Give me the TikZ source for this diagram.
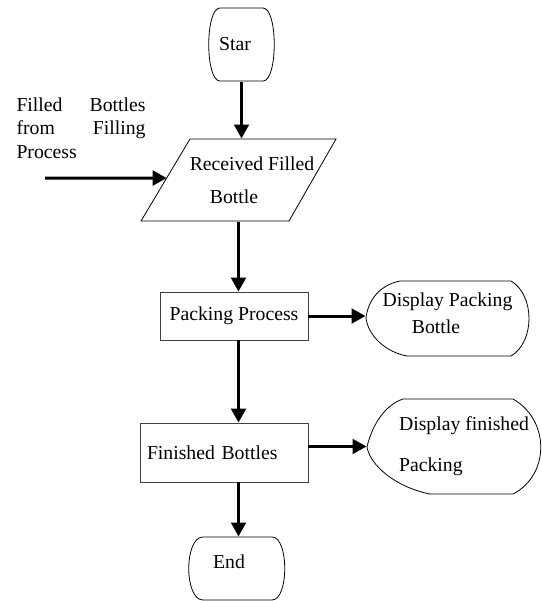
\documentclass[tikz,border=0pt]{standalone}
\usepackage{fontspec}
\setmainfont{Liberation Serif}
\usetikzlibrary{arrows.meta,calc}

\tikzset{every picture/.style={line width=0.75pt}}
\tikzset{
  flow/.style={line width=2.25pt,-{Triangle[length=10.5pt,width=11pt]}},
  outline/.style={line width=0.6pt},
  hidden/.style={draw=none,inner sep=0pt},
  procbox/.style={draw=black!75,line width=0.6pt},
}

\begin{document}
\begin{tikzpicture}[x=0.75pt,y=0.75pt,yscale=-1,font=\fontsize{14.8pt}{18pt}\selectfont]
\useasboundingbox (0,0) rectangle (542,601);

%Shape: Terminal [start]
\draw [outline] (220,8) -- (263,8) .. controls (278,8) and (278,81) .. (263,81) -- (220,81) .. controls (205,81) and (205,8) .. (220,8) -- cycle ;
%Shape: Parallelogram [received]
\coordinate (rbl) at (141,221);
\coordinate (rtl) at (190,139);
\coordinate (rtr) at (336,139);
\coordinate (rbr) at (289,221);
\draw [outline] (rbl) -- (rtl) -- (rtr) -- (rbr) -- cycle ;
%Shape: Display [packing]
\draw [outline] (400,281) -- (511,281) .. controls (535,295) and (535,342) .. (511,356) -- (407,356) .. controls (385,352) and (368,335) .. (366,318) .. controls (368,300) and (380,285) .. (400,281) -- cycle ;
%Shape: Display [finished]
\draw [outline] (403,399) -- (513,399) .. controls (550,420) and (550,475) .. (513,494) -- (430,494) .. controls (395,487) and (370,465) .. (367,447) .. controls (372,425) and (385,405) .. (403,399) -- cycle ;
%Shape: Terminal [stop]
\draw [outline] (203,537) -- (272,537) .. controls (289,537) and (289,600) .. (272,600) -- (203,600) .. controls (184,600) and (184,537) .. (203,537) -- cycle ;

% Text Node
\node (start) [hidden,minimum width=49.5pt,minimum height=54.75pt] at (241.5,44.5) {Star\hspace*{9.75pt}\mbox{}};
% Text Node
\node (recv) [hidden,minimum width=100pt,minimum height=61.5pt,align=center,
  font=\fontsize{14.8pt}{24.75pt}\selectfont] at (238.5,180) {\hspace*{20.25pt}Received Filled\\Bottle\hspace*{6.75pt}\mbox{}};
% Text Node
\node (pack) [procbox,minimum width=111pt,minimum height=36pt] at (234,316) {Packing Process};
% Text Node
\node (disp1) [hidden,minimum width=122.25pt,minimum height=56.25pt,align=center,
  font=\fontsize{14.8pt}{20.25pt}\selectfont] at (447.5,313.5) {Display Packing\\Bottle\hspace*{17.25pt}\mbox{}};
% Text Node
\node (fin) [procbox,minimum height=44.25pt,text width=115.5pt,inner xsep=5.25pt,align=left] at (224,452.5) {Finished Bottles};
% Text Node
\node (disp2) [hidden,minimum width=130.5pt,minimum height=71.25pt,align=left,
  font=\fontsize{14.8pt}{30.75pt}\selectfont] at (454,446.5) {\hspace*{15pt}Display finished\\\hspace*{15pt}Packing};
% Text Node
\node (stop) [hidden,minimum width=72pt,minimum height=37.5pt] at (237,562) {End\hspace*{12pt}\mbox{}};
% Text Node
\node (source) [inner sep=0pt,anchor=north west,text width=96.75pt,align=left,
  font=\fontsize{14.8pt}{17.6pt}\selectfont] at (16,97) {Filled\hfill Bottles\\from\hfill Filling\\Process};
\coordinate (feed) at (45,178);

%Straight Lines
\draw [flow] (start.south) -- (start.south |- recv.north) ;
\draw [flow] (feed) -- ($(rbl)!0.524!(rtl)$) ;
\draw [flow] (recv.south) -- (recv.south |- pack.north) ;
\draw [flow] (pack.east) -- (pack.east -| disp1.west) ;
\draw [flow] (recv.south |- pack.south) -- (recv.south |- fin.north) ;
\draw [flow] (fin.east |- disp2.west) -- (disp2.west) ;
\draw [flow] (recv.south |- fin.south) -- (recv.south |- stop.north) ;
\end{tikzpicture}
\end{document}
